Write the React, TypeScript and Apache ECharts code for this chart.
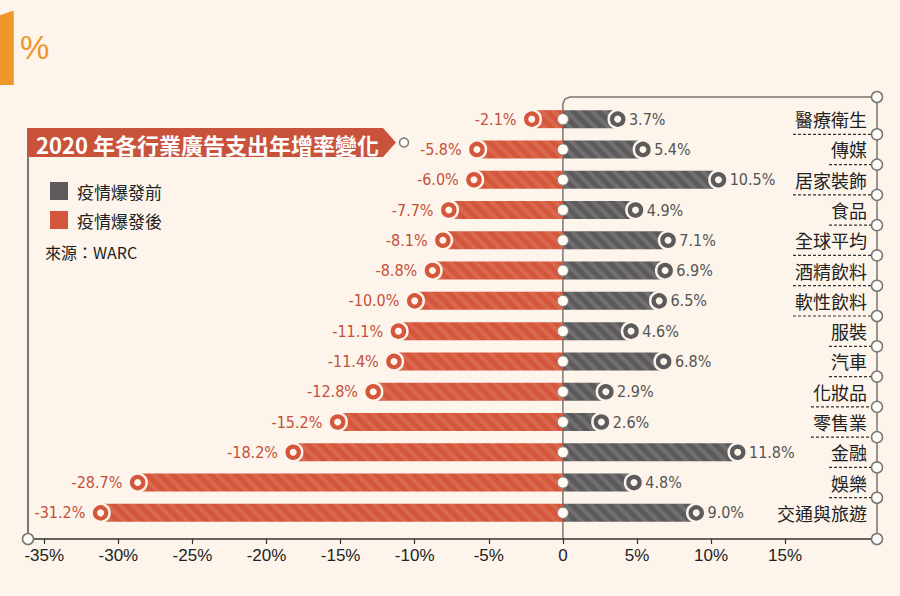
import React, { useEffect, useRef } from 'react';
import * as echarts from 'echarts';

const categories = ['醫療衛生', '傳媒', '居家裝飾', '食品', '全球平均', '酒精飲料', '軟性飲料', '服裝', '汽車', '化妝品', '零售業', '金融', '娛樂', '交通與旅遊'];
const beforeValues = [3.7, 5.4, 10.5, 4.9, 7.1, 6.9, 6.5, 4.6, 6.8, 2.9, 2.6, 11.8, 4.8, 9.0];
const afterValues = [-2.1, -5.8, -6.0, -7.7, -8.1, -8.8, -10.0, -11.1, -11.4, -12.8, -15.2, -18.2, -28.7, -31.2];
const xTickValues = [-35, -30, -25, -20, -15, -10, -5, 0, 5, 10, 15];
const legendNames = ['疫情爆發前', '疫情爆發後'];
const titleText = '2020 年各行業廣告支出年增率變化';
const sourceText = '來源：WARC';
const cornerTexts = ['1', '%'];

const X_MIN = -36.1;
const X_MAX = 21.2;

const BG = '#fdf5eb';
const GRAY = '#5c5a5a';
const ORANGE = '#d5573b';
const LINE = '#7a7674';
const ACCENT = '#f0962a';
const NUM_FONT = '"DejaVu Sans Condensed", "Liberation Sans Narrow", "Roboto Condensed", "Liberation Sans", sans-serif';
const CJK = '"Noto Sans CJK TC", "Noto Sans CJK SC", sans-serif';
const AX_FONT = '"Liberation Sans", Arial, sans-serif';

const stripe = (color: string) => ({
  symbol: 'rect',
  symbolSize: 1,
  dashArrayX: [1, 0],
  dashArrayY: [4, 5],
  rotation: Math.PI / 4,
  color,
});

const fmt = (v: number) => v.toFixed(1) + '%';

export default function App() {
  const ref = useRef<HTMLDivElement>(null);

  useEffect(() => {
    document.body.style.margin = '0';
    document.body.style.background = BG;
    const chart = echarts.init(ref.current as HTMLDivElement, null, { renderer: 'svg' });

    const beforePts = beforeValues.map((v, i) => [v, i]);
    const afterPts = afterValues.map((v, i) => [v, i]);
    const zeroPts = categories.map((_, i) => [0, i]);

    const option: any = {
      animation: false,
      backgroundColor: BG,
      grid: { left: 28, right: 23, top: 104, bottom: 68, containLabel: false },
      legend: {
        orient: 'vertical',
        left: 45,
        top: 177,
        itemWidth: 18,
        itemHeight: 18,
        itemGap: 11,
        selectedMode: false,
        textStyle: { fontSize: 17, color: '#222', fontFamily: CJK, padding: [0, 0, 0, 4] },
        data: [
          { name: legendNames[0], icon: 'rect', itemStyle: { color: GRAY, decal: 'none' } },
          { name: legendNames[1], icon: 'rect', itemStyle: { color: ORANGE, decal: 'none' } },
        ],
      },
      xAxis: {
        type: 'value',
        min: X_MIN,
        max: X_MAX,
        offset: 11,
        axisLine: { show: true, lineStyle: { color: '#333', width: 1.5 } },
        axisTick: { show: true, length: 5, lineStyle: { color: '#333', width: 1.2 }, customValues: xTickValues },
        splitLine: { show: false },
        axisLabel: {
          customValues: xTickValues,
          formatter: (v: number) => (v === 0 ? '0' : v + '%'),
          color: '#222',
          fontSize: 17,
          fontFamily: AX_FONT,
          margin: 8,
        },
      },
      yAxis: {
        type: 'category',
        data: categories,
        inverse: true,
        position: 'right',
        axisLine: { show: false },
        axisTick: { show: false },
        splitLine: { show: false },
        axisLabel: {
          inside: true,
          margin: 10,
          fontSize: 18,
          color: '#222',
          fontFamily: CJK,
          align: 'right',
        },
      },
      series: [
        {
          name: legendNames[0],
          type: 'bar',
          data: beforeValues,
          barWidth: 18,
          barGap: '-100%',
          itemStyle: { color: GRAY, decal: stripe('rgba(255,255,255,0.13)') },
          z: 2,
        },
        {
          name: legendNames[1],
          type: 'bar',
          data: afterValues,
          barWidth: 18,
          barGap: '-100%',
          itemStyle: { color: ORANGE, decal: stripe('rgba(255,255,255,0.1)') },
          z: 2,
        },
        {
          name: 'beforeEnd',
          type: 'scatter',
          data: beforePts,
          symbol: 'circle',
          symbolSize: 18,
          itemStyle: { color: GRAY, borderColor: BG, borderWidth: 2.5, opacity: 1 },
          label: {
            show: true,
            position: 'right',
            distance: 1,
            formatter: (p: any) => fmt(p.value[0]),
            color: '#545454',
            fontSize: 16,
            fontFamily: NUM_FONT,
          },
          z: 4,
        },
        {
          name: 'afterEnd',
          type: 'scatter',
          data: afterPts,
          symbol: 'circle',
          symbolSize: 18,
          itemStyle: { color: ORANGE, borderColor: BG, borderWidth: 2.5, opacity: 1 },
          label: {
            show: true,
            position: 'left',
            distance: 5,
            formatter: (p: any) => fmt(p.value[0]),
            color: '#c4503a',
            fontSize: 16,
            fontFamily: NUM_FONT,
          },
          z: 4,
        },
        {
          name: 'beforeDot',
          type: 'scatter',
          data: beforePts,
          symbol: 'circle',
          symbolSize: 7,
          itemStyle: { color: BG, opacity: 1 },
          z: 5,
        },
        {
          name: 'afterDot',
          type: 'scatter',
          data: afterPts,
          symbol: 'circle',
          symbolSize: 7,
          itemStyle: { color: BG, opacity: 1 },
          z: 5,
        },
        {
          name: 'zeroDot',
          type: 'scatter',
          data: zeroPts,
          symbol: 'circle',
          symbolSize: 11,
          itemStyle: { color: '#fffaf4', borderColor: '#8a8684', borderWidth: 1, opacity: 1 },
          z: 5,
        },
      ],
    };

    chart.setOption(option);

    const px = (x: number, i: number) => chart.convertToPixel({ xAxisIndex: 0, yAxisIndex: 0 }, [x, i]) as number[];
    const x0 = px(0, 0)[0];
    const xL = px(X_MIN, 0)[0];
    const xR = px(X_MAX, 0)[0];
    const rowC = categories.map((_, i) => px(0, i)[1]);
    const band = rowC[1] - rowC[0];
    const gridTop = rowC[0] - band / 2;
    const gridBottom = rowC[rowC.length - 1] + band / 2;
    const axisY = gridBottom + 11;
    const top = gridTop - 7;

    const circle = (cx: number, cy: number, r = 5.5) => ({
      type: 'circle',
      shape: { cx, cy, r },
      style: { fill: '#fffdf9', stroke: LINE, lineWidth: 1.5 },
      z: 20,
    });

    const els: any[] = [];
    els.push({
      type: 'polyline',
      shape: {
        points: [
          [x0, axisY], [x0, top + 7], [x0 + 2, top + 2], [x0 + 7, top], [xR, top], [xR, axisY],
        ],
      },
      style: { stroke: LINE, lineWidth: 1.5, fill: null },
      z: 0,
    });
    const bannerTop = 128;
    const bannerBot = 157;
    const bannerMid = (bannerTop + bannerBot) / 2;
    els.push({
      type: 'line',
      shape: { x1: xL, y1: bannerTop, x2: xL, y2: axisY },
      style: { stroke: LINE, lineWidth: 2 },
      z: 0,
    });
    els.push({
      type: 'polygon',
      shape: { points: [[xL, bannerTop], [383, bannerTop], [396, bannerMid], [383, bannerBot], [xL, bannerBot]] },
      style: { fill: '#c9523a' },
      z: 1,
    });
    els.push({
      type: 'text',
      x: 36,
      y: bannerMid + 1,
      style: { text: titleText, fill: '#fff', fontSize: 22, fontWeight: 'bold', fontFamily: CJK, verticalAlign: 'middle', align: 'left' },
      z: 2,
    });
    els.push(circle(404, bannerMid, 4.5));
    els.push({
      type: 'text',
      x: 45,
      y: 252,
      style: { text: sourceText, fill: '#222', fontSize: 16, fontFamily: CJK, verticalAlign: 'middle' },
    });
    els.push({
      type: 'text',
      x: -27,
      y: 49,
      style: { text: cornerTexts[0], fill: ACCENT, fontSize: 104, fontWeight: 'bold', fontFamily: 'Roboto, sans-serif', verticalAlign: 'middle', align: 'left' },
    });
    els.push({
      type: 'text',
      x: 20,
      y: 47,
      style: { text: cornerTexts[1], fill: ACCENT, fontSize: 33, fontFamily: AX_FONT, verticalAlign: 'middle' },
    });

    // separators under category labels
    for (let i = 0; i < categories.length - 1; i++) {
      const yb = (rowC[i] + rowC[i + 1]) / 2;
      const w = categories[i].length * 18;
      els.push({
        type: 'line',
        shape: { x1: xR - 10 - w - 2, y1: yb, x2: xR, y2: yb },
        style: { stroke: '#333', lineWidth: 1.2, lineDash: [3, 2] },
        z: 1,
      });
      els.push(circle(xR, yb));
    }
    els.push(circle(xR, top));
    els.push(circle(xR, axisY));
    els.push(circle(xL, axisY));

    chart.setOption({ graphic: els });

    return () => chart.dispose();
  }, []);

  return <div ref={ref} style={{ width: 900, height: 596 }} />;
}
